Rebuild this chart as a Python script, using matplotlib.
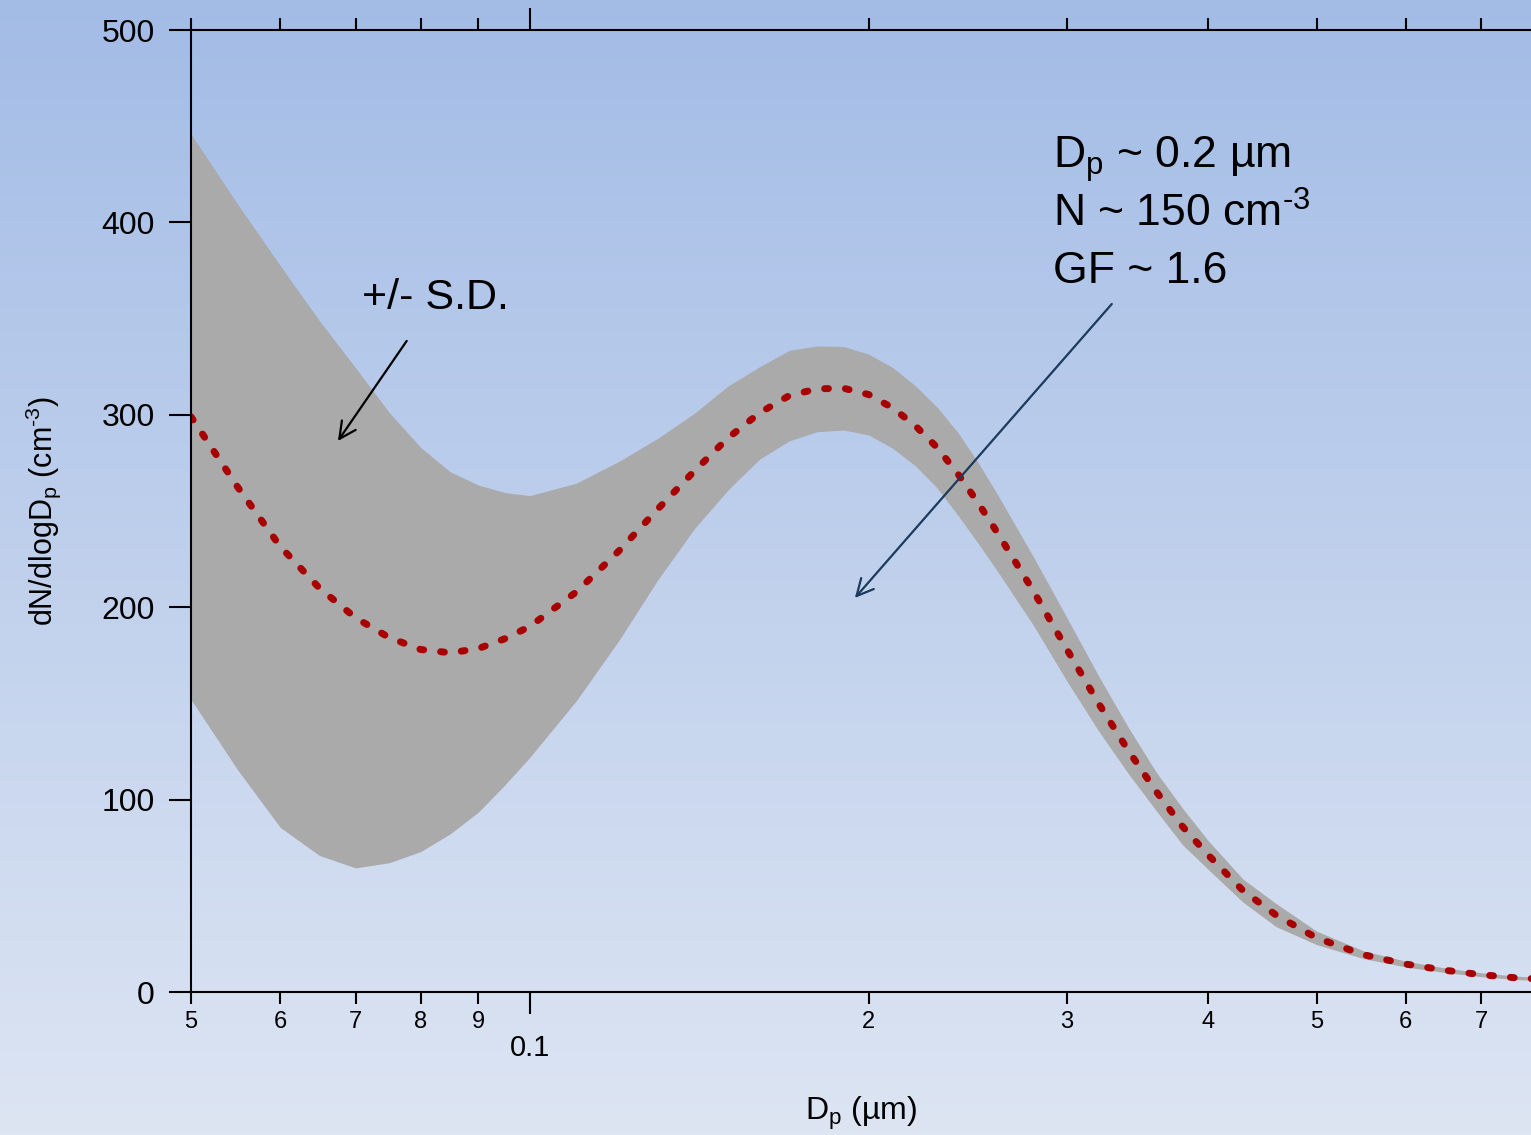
import numpy as np
import matplotlib
matplotlib.use('Agg')
import matplotlib.pyplot as plt
from matplotlib.ticker import FixedLocator

plt.rcParams['font.family'] = ['Liberation Sans', 'DejaVu Sans']
plt.rcParams['mathtext.fontset'] = 'custom'
plt.rcParams['mathtext.rm'] = 'Liberation Sans'
plt.rcParams['mathtext.it'] = 'Liberation Sans:italic'
plt.rcParams['mathtext.bf'] = 'Liberation Sans:bold'

# ---- data ----
diameter_um = [0.05, 0.055, 0.06, 0.065, 0.07, 0.075, 0.08, 0.085, 0.09, 0.095,
               0.10, 0.11, 0.12, 0.13, 0.14, 0.15, 0.16, 0.17, 0.18, 0.19,
               0.20, 0.21, 0.22, 0.23, 0.24, 0.25, 0.26, 0.28, 0.30, 0.32,
               0.34, 0.36, 0.38, 0.40, 0.43, 0.46, 0.50, 0.55, 0.60, 0.65,
               0.70, 0.75, 0.78]
mean_dndlogdp = [299, 262.5, 231.6, 210, 194.5, 184.2, 178, 176.3, 178.5, 183.6,
                 190, 208, 229.3, 251.2, 270.8, 288, 301, 310, 313.5, 313.8,
                 310.5, 303.6, 294.3, 283, 269.3, 254.4, 239, 208.5, 178, 150,
                 125.6, 104.3, 86, 71.5, 52.7, 40, 28.1, 19.4, 14.5, 11.3,
                 9.0, 7.4, 6.9]
sd_dndlogdp = [147, 147, 146, 139, 130, 117, 105, 94, 85, 76,
               68, 56.5, 46.5, 36.7, 30, 27, 24, 23.5, 22.3, 21.7,
               21, 21, 20.8, 21, 21.5, 21, 20, 17.8, 16.5, 14.3,
               12, 10, 9.5, 7.5, 6, 6, 3.5, 2, 1.5, 1.2,
               1.0, 0.9, 0.8]

x_major_ticks = [0.1]
x_major_labels = ['0.1']
x_minor_ticks = [0.05, 0.06, 0.07, 0.08, 0.09, 0.2, 0.3, 0.4, 0.5, 0.6, 0.7]
x_minor_labels = ['5', '6', '7', '8', '9', '2', '3', '4', '5', '6', '7']
y_ticks = [0, 100, 200, 300, 400, 500]

d = np.array(diameter_um)
m = np.array(mean_dndlogdp)
s = np.array(sd_dndlogdp)

W, H = 1531, 1135
fig = plt.figure(figsize=(W / 100, H / 100), dpi=100)

# background gradient
bg = fig.add_axes([0, 0, 1, 1], zorder=-10)
g = np.linspace(0, 1, 256)[:, None, None]
top = np.array([163, 188, 230]) / 255
bot = np.array([221, 229, 243]) / 255
img = top + (bot - top) * g
bg.imshow(img, aspect='auto', extent=[0, 1, 0, 1], origin='upper')
bg.axis('off')

ax = fig.add_axes([191 / W, 1 - 992 / H, 1340 / W, 962 / H])
ax.set_facecolor('none')

ax.fill_between(d, m - s, m + s, color='#AAAAAA', lw=0, zorder=1)
ax.plot(d, m, color='#A80000', lw=5.0, linestyle=(0, (0.55, 2.45)),
        dash_capstyle='round', zorder=2)

ax.set_xscale('log')
ax.set_xlim(0.05, 0.775)
ax.set_ylim(0, 500)

ax.xaxis.set_major_locator(FixedLocator(x_major_ticks))
ax.set_xticklabels(x_major_labels)
ax.xaxis.set_minor_locator(FixedLocator(x_minor_ticks))
ax.set_xticklabels(x_minor_labels, minor=True)
ax.set_yticks(y_ticks)
ax.set_yticklabels([str(v) for v in y_ticks])

ax.tick_params(axis='x', which='major', direction='out', length=16, width=1.5,
               labelsize=21, pad=14, top=True, labeltop=False)
ax.tick_params(axis='x', which='minor', direction='out', length=8.6, width=1.5,
               labelsize=17, pad=5, top=True, labeltop=False)
ax.tick_params(axis='y', which='major', direction='out', length=16, width=1.5,
               labelsize=23, pad=10)
ax.tick_params(axis='y', which='minor', left=False, right=False)
for t in ax.get_xticklabels(minor=True):
    t.set_fontfamily(['Liberation Sans Narrow', 'Liberation Sans'])

for sp in ['left', 'bottom', 'top']:
    ax.spines[sp].set_linewidth(1.5)
    ax.spines[sp].set_color('black')
ax.spines['right'].set_visible(False)

ax.set_xlabel(r'D$_\mathrm{p}$ (µm)', fontsize=23)
ax.xaxis.set_label_coords(0.5, -0.133)
ax.xaxis.label.set_verticalalignment('baseline')
ax.set_ylabel(r'dN/dlogD$_\mathrm{p}$ (cm$^{\text{-3}}$)', fontsize=22)
ax.yaxis.set_label_coords(-0.110, 0.5)
ax.yaxis.label.set_verticalalignment('center')

# annotations
ax.text(0.07095, 355, '+/- S.D.', fontsize=31, ha='left', va='baseline')
ax.annotate('', xy=(0.06753, 286.4), xytext=(0.07773, 338.4),
            arrowprops=dict(arrowstyle='->', color='black', lw=1.6,
                            mutation_scale=30, shrinkA=0, shrinkB=0))
ax.text(0.2915, 428.3, r'D$_\mathrm{p}$ ~ 0.2 µm', fontsize=32, ha='left', va='baseline')
ax.text(0.2915, 397.6, r'N ~ 150 cm$^{\text{-3}}$', fontsize=32, ha='left', va='baseline')
ax.text(0.2915, 368.5, 'GF ~ 1.6', fontsize=32, ha='left', va='baseline')
ax.annotate('', xy=(0.1944, 204.8), xytext=(0.3288, 357.6),
            arrowprops=dict(arrowstyle='->', color='#1B3A5C', lw=1.6,
                            mutation_scale=30, shrinkA=0, shrinkB=0))

fig.savefig('out.png', dpi=100)
